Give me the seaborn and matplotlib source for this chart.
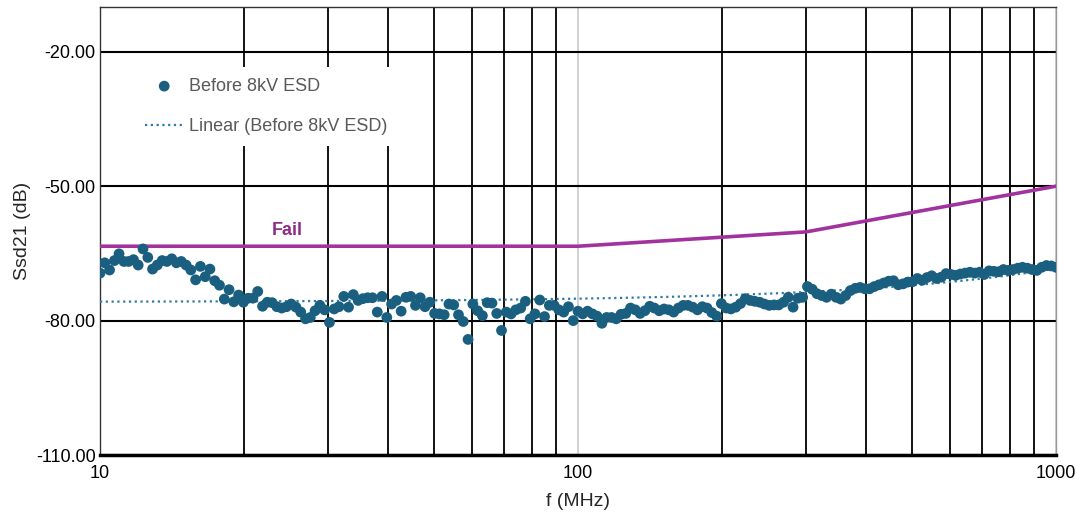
import numpy as np
import pandas as pd
import matplotlib
matplotlib.use("Agg")
import matplotlib.pyplot as plt
import seaborn as sns

# sweep frequencies (MHz), log-spaced, 100 points per decade
freq_mhz = [
    10.00, 10.23, 10.47, 10.72, 10.96, 11.22, 11.48, 11.75, 12.02, 12.30,
    12.59, 12.88, 13.18, 13.49, 13.80, 14.13, 14.45, 14.79, 15.14, 15.49,
    15.85, 16.22, 16.60, 16.98, 17.38, 17.78, 18.20, 18.62, 19.05, 19.50,
    19.95, 20.42, 20.89, 21.38, 21.88, 22.39, 22.91, 23.44, 23.99, 24.55,
    25.12, 25.70, 26.30, 26.92, 27.54, 28.18, 28.84, 29.51, 30.20, 30.90,
    31.62, 32.36, 33.11, 33.88, 34.67, 35.48, 36.31, 37.15, 38.02, 38.90,
    39.81, 40.74, 41.69, 42.66, 43.65, 44.67, 45.71, 46.77, 47.86, 48.98,
    50.12, 51.29, 52.48, 53.70, 54.95, 56.23, 57.54, 58.88, 60.26, 61.66,
    63.10, 64.57, 66.07, 67.61, 69.18, 70.79, 72.44, 74.13, 75.86, 77.62,
    79.43, 81.28, 83.18, 85.11, 87.10, 89.13, 91.20, 93.33, 95.50, 97.72,
    100.0, 102.3, 104.7, 107.2, 109.6, 112.2, 114.8, 117.5, 120.2, 123.0,
    125.9, 128.8, 131.8, 134.9, 138.0, 141.3, 144.5, 147.9, 151.4, 154.9,
    158.5, 162.2, 166.0, 169.8, 173.8, 177.8, 182.0, 186.2, 190.5, 195.0,
    199.5, 204.2, 208.9, 213.8, 218.8, 223.9, 229.1, 234.4, 239.9, 245.5,
    251.2, 257.0, 263.0, 269.2, 275.4, 281.8, 288.4, 295.1, 302.0, 309.0,
    316.2, 323.6, 331.1, 338.8, 346.7, 354.8, 363.1, 371.5, 380.2, 389.0,
    398.1, 407.4, 416.9, 426.6, 436.5, 446.7, 457.1, 467.7, 478.6, 489.8,
    501.2, 512.9, 524.8, 537.0, 549.5, 562.3, 575.4, 588.8, 602.6, 616.6,
    631.0, 645.7, 660.7, 676.1, 691.8, 707.9, 724.4, 741.3, 758.6, 776.2,
    794.3, 812.8, 831.8, 851.1, 871.0, 891.3, 912.0, 933.3, 955.0, 977.2,
    1000.0,
]

# measured Ssd21 before 8kV ESD (dB)
ssd21_db = [
    -69.4, -67.1, -68.7, -66.6, -65.1, -66.8, -66.8, -66.4, -67.6, -64.0,
    -65.9, -68.5, -67.6, -66.6, -66.8, -66.2, -67.1, -66.8, -67.6, -68.7,
    -70.9, -67.9, -70.2, -68.5, -71.1, -72.1, -75.2, -73.1, -75.8, -74.3,
    -75.9, -75.0, -75.0, -73.5, -76.8, -75.9, -76.0, -76.9, -77.2, -76.9,
    -76.3, -77.0, -78.1, -79.6, -79.3, -77.8, -76.6, -77.6, -80.4, -77.4,
    -76.9, -74.6, -77.0, -74.2, -75.5, -75.1, -74.9, -74.9, -78.1, -74.6,
    -79.3, -76.3, -75.5, -77.9, -74.8, -74.6, -76.6, -74.9, -76.9, -75.9,
    -78.4, -78.5, -78.7, -76.3, -76.5, -78.7, -80.2, -84.2, -76.3, -77.8,
    -78.9, -76.0, -76.1, -78.4, -82.2, -78.1, -78.5, -77.6, -77.2, -75.7,
    -79.6, -78.5, -75.4, -79.1, -76.6, -76.6, -77.6, -78.1, -76.9, -80.0,
    -77.9, -78.5, -77.9, -78.5, -79.0, -80.6, -79.3, -79.3, -79.6, -78.6,
    -78.4, -77.2, -77.6, -78.4, -77.8, -76.8, -77.2, -77.8, -77.4, -77.6,
    -78.1, -77.2, -76.6, -76.6, -77.0, -77.6, -76.9, -77.2, -78.2, -79.0,
    -76.2, -77.2, -77.4, -77.0, -76.2, -75.1, -75.5, -75.7, -75.9, -76.3,
    -76.6, -76.5, -76.5, -75.9, -74.8, -77.0, -75.0, -74.8, -72.4, -73.0,
    -74.0, -74.4, -74.8, -74.1, -74.8, -75.2, -74.4, -73.3, -72.8, -72.6,
    -72.9, -72.9, -72.4, -72.0, -71.6, -71.2, -71.1, -72.0, -71.8, -71.4,
    -71.3, -70.6, -71.0, -70.4, -70.0, -70.6, -70.3, -69.5, -69.7, -69.9,
    -69.6, -69.4, -69.2, -69.4, -69.2, -69.7, -68.9, -69.0, -69.1, -68.6,
    -68.8, -68.6, -68.3, -68.1, -68.3, -68.6, -68.8, -68.1, -67.7, -67.8,
    -68.1,
]

# fail limit mask
fail_f = [10, 100, 300, 1000]
fail_db = [-63.4, -63.4, -60.2, -50.0]

x_ticks = [10, 100, 1000]
x_minor = [20, 30, 40, 50, 60, 70, 80, 90, 200, 300, 400, 500, 600, 700, 800, 900]
y_ticks = [-110, -80, -50, -20]

DOT = "#1A5F80"
TREND = "#2F7AA6"
FAIL = "#A2339E"

df = pd.DataFrame({"f": freq_mhz, "db": ssd21_db})

sns.set_theme(style="white")
plt.rcParams["font.family"] = ["Liberation Sans", "DejaVu Sans"]

fig = plt.figure(figsize=(10.76, 5.12), dpi=100)
ax = fig.add_axes([100 / 1076, 1 - 455 / 512, 956 / 1076, 448 / 512])

# Excel-style linear trendline (linear in f, drawn on log axis)
sns.regplot(data=df, x="f", y="db", scatter=False, ci=None, ax=ax,
            line_kws=dict(color=TREND, lw=1.6, ls=(0, (1, 1.6)), zorder=3))
trend_line = ax.lines[-1]
sns.scatterplot(data=df, x="f", y="db", ax=ax, color=DOT, s=60,
                edgecolor="none", zorder=4, legend=False)
dots = ax.collections[-1]
sns.lineplot(x=fail_f, y=fail_db, ax=ax, color=FAIL, lw=2.6,
             legend=False, zorder=3)
ax.text(24.7, -61.8, "Fail", color="#8E2C86", fontsize=13, fontweight="bold",
        ha="center", va="bottom")

ax.set_xscale("log")
ax.set_xlim(10, 1000)
ax.set_ylim(-110, -10)
ax.set_xticks(x_ticks, labels=[str(t) for t in x_ticks])
ax.set_xticks(x_minor, minor=True)
ax.set_xticklabels([], minor=True)
ax.set_yticks(y_ticks, labels=[f"{t:.2f}" for t in y_ticks])
ax.tick_params(axis="both", which="both", length=0, labelsize=13, colors="black")
ax.tick_params(axis="x", pad=7)
ax.tick_params(axis="y", pad=3)

ax.set_axisbelow(True)
ax.grid(False)
ax.grid(True, axis="y", which="major", color="black", lw=1.5)
ax.grid(True, axis="x", which="minor", color="black", lw=1.3)
ax.grid(True, axis="x", which="major", color="#cfcfcf", lw=1.3)

for name, sp in ax.spines.items():
    sp.set_visible(True)
    sp.set_color("#333333")
    sp.set_linewidth(1.0)
ax.spines["bottom"].set_color("black")
ax.spines["bottom"].set_linewidth(2.5)
ax.spines["right"].set_color("#999999")

ax.set_xlabel("f (MHz)", fontsize=14, labelpad=8)
ax.set_ylabel("Ssd21 (dB)", fontsize=14, labelpad=3.5)

leg = ax.legend([dots, trend_line], ["Before 8kV ESD", "Linear (Before 8kV ESD)"],
                loc="upper left", bbox_to_anchor=(0.036, 0.866),
                fontsize=13, frameon=True, facecolor="white", edgecolor="none",
                framealpha=1, fancybox=False, labelspacing=1.3,
                handlelength=2.1, handletextpad=0.3, borderpad=0.6,
                borderaxespad=0)
for t in leg.get_texts():
    t.set_color("#595959")

fig.savefig("out.png", dpi=100)
